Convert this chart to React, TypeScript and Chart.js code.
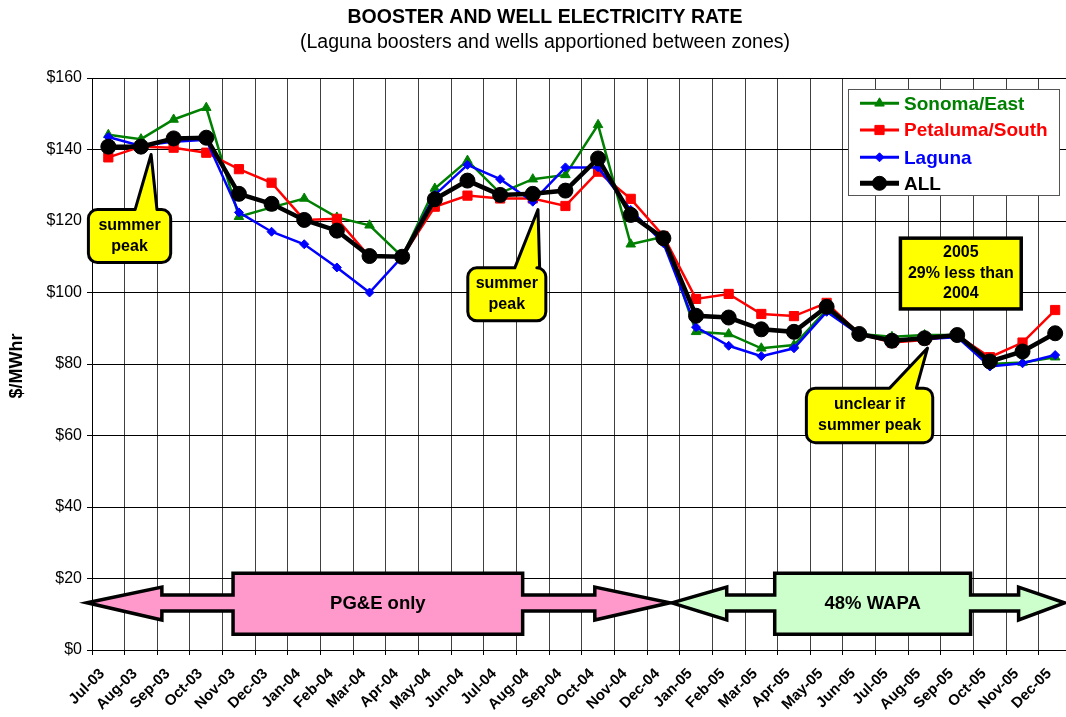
import { useEffect, useRef } from 'react';
import { Chart, registerables } from 'chart.js';

Chart.register(...registerables);

const months = [
  'Jul-03', 'Aug-03', 'Sep-03', 'Oct-03', 'Nov-03', 'Dec-03',
  'Jan-04', 'Feb-04', 'Mar-04', 'Apr-04', 'May-04', 'Jun-04',
  'Jul-04', 'Aug-04', 'Sep-04', 'Oct-04', 'Nov-04', 'Dec-04',
  'Jan-05', 'Feb-05', 'Mar-05', 'Apr-05', 'May-05', 'Jun-05',
  'Jul-05', 'Aug-05', 'Sep-05', 'Oct-05', 'Nov-05', 'Dec-05',
];

const sonomaEast = [
  144.1, 142.9, 148.4, 151.7, 121.2, 123.8,
  126.3, 121.0, 118.8, 110.0, 129.1, 136.9,
  127.8, 131.7, 132.9, 146.9, 113.5, 115.6,
  89.0, 88.4, 84.4, 85.3, 95.1, 88.4,
  87.6, 88.1, 88.1, 80.0, 80.4, 81.9,
];

const petalumaSouth = [
  137.8, 140.8, 140.5, 139.1, 134.5, 130.7,
  120.3, 120.6, 110.0, 110.0, 124.0, 127.1,
  126.3, 126.3, 124.2, 133.8, 126.2, 115.8,
  98.2, 99.6, 94.0, 93.4, 97.1, 88.4,
  86.0, 86.7, 88.0, 81.9, 86.0, 95.1,
];

const laguna = [
  143.5, 141.0, 142.2, 142.7, 122.4, 117.0,
  113.5, 107.0, 100.0, 110.0, 127.3, 135.7,
  131.7, 125.4, 135.0, 135.0, 123.1, 113.8,
  90.3, 85.1, 82.2, 84.4, 94.6, 88.2,
  86.7, 87.0, 87.5, 79.3, 80.2, 82.5,
];

const allZones = [
  140.8, 140.8, 143.1, 143.3, 127.6, 124.8,
  120.3, 117.3, 110.2, 110.0, 126.1, 131.3,
  127.3, 127.6, 128.5, 137.5, 121.7, 115.2,
  93.5, 93.0, 89.7, 89.0, 96.0, 88.4,
  86.5, 87.2, 88.1, 80.7, 83.5, 88.6,
];

const yMin = 0;
const yMax = 160;
const yStep = 20;

const titleText = 'BOOSTER AND WELL ELECTRICITY RATE';
const subtitleText = '(Laguna boosters and wells apportioned between zones)';
const yAxisTitle = '$/MWhr';

const seriesNames = ['Sonoma/East', 'Petaluma/South', 'Laguna', 'ALL'];
const seriesColors = ['#008000', '#FF0000', '#0000FF', '#000000'];

// Annotation geometry in data units (x = category index, y = $/MWhr)
const callouts = [
  { lines: ['summer', 'peak'], box: [-0.61, 1.91, 123.2, 108.4], base: [0.82, 1.49], tip: [1.31, 138.6] },
  { lines: ['summer', 'peak'], box: [11.01, 13.4, 106.9, 92.1], base: [12.45, 13.21], tip: [13.16, 123.2] },
  { lines: ['unclear if', 'summer peak'], box: [21.38, 25.25, 73.25, 58.0], base: [23.93, 24.75], tip: [25.09, 84.45] },
];
const noteBox = { lines: ['2005', '29% less than', '2004'], box: [24.26, 27.96, 115.2, 95.4] };

const arrowY = { mid: 13.2, headTop: 17.6, headBot: 8.4, shaftTop: 15.4, shaftBot: 10.9, boxTop: 21.5, boxBot: 4.4 };
const arrows = [
  { label: 'PG&E only', fill: '#FF99CC', x: [-0.65, 1.64, 3.82, 12.69, 14.9, 17.2] },
  { label: '48% WAPA', fill: '#CCFFCC', x: [17.26, 18.94, 20.41, 26.41, 27.88, 29.29] },
];

const FONT = '"Liberation Sans", Arial, Helvetica, sans-serif';

function drawMarker(ctx: CanvasRenderingContext2D, style: string, r: number, x: number, y: number) {
  ctx.beginPath();
  if (style === 'circle') {
    ctx.arc(x, y, r, 0, Math.PI * 2);
  } else if (style === 'rect') {
    const s = Math.SQRT1_2 * r;
    ctx.rect(x - s, y - s, 2 * s, 2 * s);
  } else if (style === 'rectRot') {
    ctx.moveTo(x, y - r); ctx.lineTo(x + r, y); ctx.lineTo(x, y + r); ctx.lineTo(x - r, y);
  } else {
    for (let k = 0; k < 3; k++) {
      const a = (k * 2 * Math.PI) / 3;
      const px = x + Math.sin(a) * r, py = y - Math.cos(a) * r;
      if (k === 0) ctx.moveTo(px, py); else ctx.lineTo(px, py);
    }
  }
  ctx.closePath();
  ctx.fill();
  ctx.stroke();
}

const overlayPlugin = {
  id: 'overlay',
  afterDraw(chart: any) {
    const ctx: CanvasRenderingContext2D = chart.ctx;
    const xs = chart.scales.x;
    const ys = chart.scales.y;
    const X = (i: number) => xs.getPixelForValue(i);
    const Y = (v: number) => ys.getPixelForValue(v);
    ctx.save();

    // Titles
    ctx.fillStyle = '#000';
    ctx.textAlign = 'center';
    ctx.textBaseline = 'middle';
    ctx.font = `bold 19.5px ${FONT}`;
    ctx.fillText(titleText, 545, 18);
    ctx.font = `19.5px ${FONT}`;
    ctx.fillText(subtitleText, 545, 43);

    // Y axis title
    ctx.save();
    ctx.translate(17, 366);
    ctx.rotate(-Math.PI / 2);
    ctx.font = `bold 18px ${FONT}`;
    ctx.fillText(yAxisTitle, 0, 0);
    ctx.restore();

    // Arrows
    ctx.lineJoin = 'miter';
    for (const a of arrows) {
      const [x0, hl, bl, br, hr, x1] = a.x;
      const pts: [number, number][] = [
        [x0, arrowY.mid], [hl, arrowY.headTop], [hl, arrowY.shaftTop], [bl, arrowY.shaftTop],
        [bl, arrowY.boxTop], [br, arrowY.boxTop], [br, arrowY.shaftTop], [hr, arrowY.shaftTop],
        [hr, arrowY.headTop], [x1, arrowY.mid], [hr, arrowY.headBot], [hr, arrowY.shaftBot],
        [br, arrowY.shaftBot], [br, arrowY.boxBot], [bl, arrowY.boxBot], [bl, arrowY.shaftBot],
        [hl, arrowY.shaftBot], [hl, arrowY.headBot],
      ];
      ctx.beginPath();
      pts.forEach(([px, py], k) => (k === 0 ? ctx.moveTo(X(px), Y(py)) : ctx.lineTo(X(px), Y(py))));
      ctx.closePath();
      ctx.fillStyle = a.fill;
      ctx.fill();
      ctx.lineWidth = 3.5;
      ctx.strokeStyle = '#000';
      ctx.stroke();
      ctx.fillStyle = '#000';
      ctx.font = `bold 18.5px ${FONT}`;
      ctx.textAlign = 'center';
      ctx.textBaseline = 'middle';
      ctx.fillText(a.label, X((bl + br) / 2), Y(arrowY.mid) + 1);
    }

    // Callouts
    ctx.lineJoin = 'round';
    for (const c of callouts) {
      const l = X(c.box[0]), r = X(c.box[1]), t = Y(c.box[2]), b = Y(c.box[3]);
      const bx0 = X(c.base[0]), bx1 = X(c.base[1]);
      const tx = X(c.tip[0]), ty = Y(c.tip[1]);
      const rad = 9;
      ctx.beginPath();
      ctx.moveTo(l + rad, t);
      ctx.lineTo(bx0, t);
      ctx.lineTo(tx, ty);
      ctx.lineTo(bx1, t);
      ctx.lineTo(r - rad, t);
      ctx.arcTo(r, t, r, t + rad, rad);
      ctx.lineTo(r, b - rad);
      ctx.arcTo(r, b, r - rad, b, rad);
      ctx.lineTo(l + rad, b);
      ctx.arcTo(l, b, l, b - rad, rad);
      ctx.lineTo(l, t + rad);
      ctx.arcTo(l, t, l + rad, t, rad);
      ctx.closePath();
      ctx.fillStyle = '#FFFF00';
      ctx.fill();
      ctx.lineWidth = 3;
      ctx.strokeStyle = '#000';
      ctx.stroke();
      ctx.fillStyle = '#000';
      ctx.font = `bold 16px ${FONT}`;
      ctx.textAlign = 'center';
      ctx.textBaseline = 'middle';
      const cx = (l + r) / 2, cy = (t + b) / 2;
      const lh = 21;
      c.lines.forEach((s, k) => ctx.fillText(s, cx, cy + (k - (c.lines.length - 1) / 2) * lh));
    }

    // Note box
    {
      const l = X(noteBox.box[0]), r = X(noteBox.box[1]), t = Y(noteBox.box[2]), b = Y(noteBox.box[3]);
      ctx.fillStyle = '#FFFF00';
      ctx.fillRect(l, t, r - l, b - t);
      ctx.lineWidth = 3.5;
      ctx.lineJoin = 'miter';
      ctx.strokeStyle = '#000';
      ctx.strokeRect(l, t, r - l, b - t);
      ctx.fillStyle = '#000';
      ctx.font = `bold 16px ${FONT}`;
      ctx.textAlign = 'center';
      ctx.textBaseline = 'middle';
      const cx = (l + r) / 2, cy = (t + b) / 2;
      const lh = 20.5;
      noteBox.lines.forEach((s, k) => ctx.fillText(s, cx, cy + (k - (noteBox.lines.length - 1) / 2) * lh));
    }

    // Legend
    {
      const lx = 848, ly = 89, lw = 211, lhgt = 106;
      ctx.fillStyle = '#fff';
      ctx.fillRect(lx, ly, lw, lhgt);
      ctx.lineWidth = 1;
      ctx.strokeStyle = '#555';
      ctx.strokeRect(lx + 0.5, ly + 0.5, lw, lhgt);
      const rows = [103.3, 130, 157.3, 183.3];
      const styles = ['triangle', 'rect', 'rectRot', 'circle'];
      const radii = [5.5, 6.5, 4.5, 7];
      const widths = [3, 3, 3, 5];
      ctx.textAlign = 'left';
      ctx.textBaseline = 'middle';
      ctx.font = `bold 19px ${FONT}`;
      seriesNames.forEach((name, k) => {
        const y = rows[k];
        ctx.beginPath();
        ctx.moveTo(860, y);
        ctx.lineTo(899, y);
        ctx.lineWidth = widths[k];
        ctx.strokeStyle = seriesColors[k];
        ctx.stroke();
        ctx.fillStyle = seriesColors[k];
        ctx.lineWidth = 1;
        drawMarker(ctx, styles[k], radii[k], 879.5, y);
        ctx.fillText(name, 904, y + 1);
      });
    }

    ctx.restore();
  },
};

export default function App() {
  const canvasRef = useRef<HTMLCanvasElement | null>(null);

  useEffect(() => {
    if (!canvasRef.current) return;
    const mk = (label: string, data: number[], color: string, style: string, radius: number, width: number, order: number) => ({
      label,
      data,
      borderColor: color,
      backgroundColor: color,
      pointBackgroundColor: color,
      pointBorderColor: color,
      pointStyle: style,
      pointRadius: radius,
      pointBorderWidth: 1,
      borderWidth: width,
      tension: 0,
      order,
    });
    const chart = new Chart(canvasRef.current, {
      type: 'line',
      data: {
        labels: months,
        datasets: [
          mk(seriesNames[0], sonomaEast, seriesColors[0], 'triangle', 5.5, 2.5, 3),
          mk(seriesNames[1], petalumaSouth, seriesColors[1], 'rect', 6.5, 2.5, 2),
          mk(seriesNames[2], laguna, seriesColors[2], 'rectRot', 4.5, 2.5, 1),
          mk(seriesNames[3], allZones, seriesColors[3], 'circle', 7.5, 4.5, 0),
        ],
      },
      options: {
        animation: false,
        responsive: false,
        devicePixelRatio: 1,
        layout: { padding: { left: 0, top: 78, right: 8, bottom: 0 } },
        plugins: {
          legend: { display: false },
          title: { display: false },
          tooltip: { enabled: false },
        },
        scales: {
          x: {
            type: 'category',
            offset: true,
            grid: {
              offset: true,
              color: '#404040',
              lineWidth: 1,
              tickLength: 5,
              tickColor: '#000',
            },
            border: { color: '#000', width: 1 },
            ticks: {
              autoSkip: false,
              minRotation: 45,
              maxRotation: 45,
              color: '#000',
              padding: 10,
              labelOffset: -6,
              font: { family: FONT, size: 15, weight: 'bold' },
            },
            afterFit: (s: any) => { s.height = 67; },
          },
          y: {
            min: yMin,
            max: yMax,
            grid: { color: '#000', lineWidth: 1, tickLength: 5, tickColor: '#000' },
            border: { color: '#000', width: 1 },
            ticks: {
              stepSize: yStep,
              color: '#000',
              padding: 5,
              font: { family: FONT, size: 16 },
              callback: (v: any) => '$' + v,
            },
            afterFit: (s: any) => { s.width = 92; },
          },
        },
      },
      plugins: [overlayPlugin],
    } as any);
    return () => chart.destroy();
  }, []);

  return (
    <div style={{ position: 'fixed', left: 0, top: 0, width: 1066, height: 717, overflow: 'hidden', background: '#fff' }}>
      <canvas ref={canvasRef} width={1080} height={717} style={{ display: 'block', width: 1080, height: 717 }} />
    </div>
  );
}
